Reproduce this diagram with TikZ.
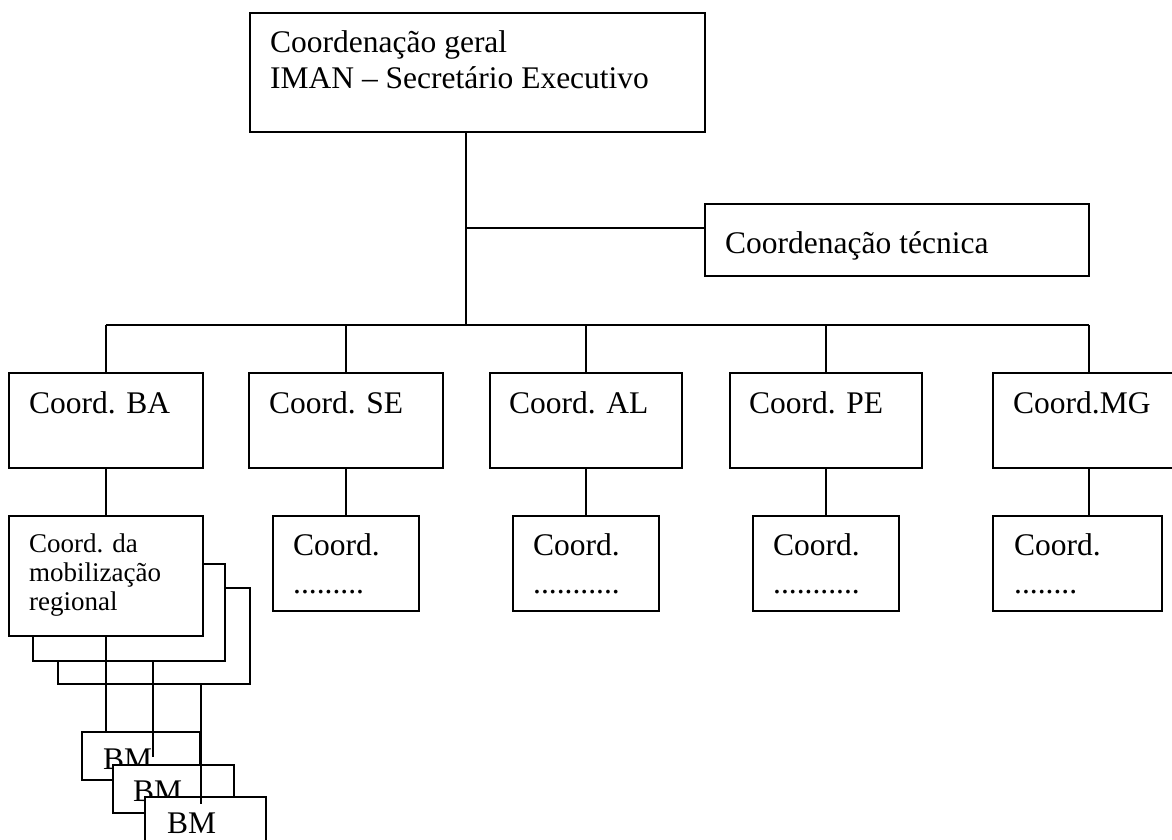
\documentclass[tikz,border=0pt]{standalone}
\usepackage{fontspec}
\setmainfont{Liberation Serif}
\begin{document}
\begin{tikzpicture}[x=1pt,y=-1pt]
\tikzset{
  box/.style={draw, line width=1.8pt, fill=white, rectangle, inner sep=0pt, anchor=north west},
  lbl/.style={anchor=base west, inner sep=0pt, font=\fontsize{31.5}{36}\selectfont},
  small/.style={anchor=base west, inner sep=0pt, font=\fontsize{27}{30}\selectfont},
  conn/.style={line width=1.8pt},
}
\useasboundingbox (0,0) rectangle (1172,840);
\clip (0,0) rectangle (1172,840);
\fill[white] (0,0) rectangle (1172,840);

% top
\node[box, minimum width=455pt, minimum height=119pt] (top) at (249,12) {};
\node[lbl] (topa) at (270,53) {Coordenação geral};
\node[lbl] (topb) at (270,89) {IMAN – Secretário Executivo};

% technical
\node[box, minimum width=384pt, minimum height=72pt] (tech) at (704,203) {};
\node[lbl] (techt) at (725,253) {Coordenação técnica};

% level 2
\node[box, minimum width=194pt, minimum height=95pt] (ba) at (8,372) {};
\node[box, minimum width=194pt, minimum height=95pt] (se) at (248,372) {};
\node[box, minimum width=192pt, minimum height=95pt] (al) at (489,372) {};
\node[box, minimum width=192pt, minimum height=95pt] (pe) at (729,372) {};
\node[box, minimum width=192pt, minimum height=95pt] (mg) at (992,372) {};
\node[lbl] (bat) at (29,413) {Coord. BA};
\node[lbl] (set) at (269,413) {Coord. SE};
\node[lbl] (alt) at (509,413) {Coord. AL};
\node[lbl] (pet) at (749,413) {Coord. PE};
\node[lbl] (mgt) at (1013,413) {Coord.MG};

% level 3
\node[box, minimum width=146pt, minimum height=95pt] (ses) at (272,515) {};
\node[box, minimum width=146pt, minimum height=95pt] (als) at (512,515) {};
\node[box, minimum width=146pt, minimum height=95pt] (pes) at (752,515) {};
\node[box, minimum width=169pt, minimum height=95pt] (mgs) at (992,515) {};
\node[lbl] (sesa) at (293,555) {Coord.};
\node[lbl] (sesb) at (293,593) {.........};
\node[lbl] (alsa) at (533,555) {Coord.};
\node[lbl] (alsb) at (533,593) {...........};
\node[lbl] (pesa) at (773,555) {Coord.};
\node[lbl] (pesb) at (773,593) {...........};
\node[lbl] (mgsa) at (1014,555) {Coord.};
\node[lbl] (mgsb) at (1014,593) {........};

% mobilization stack
\node[box, minimum width=192pt, minimum height=96pt] (mob3) at (57,587) {};
\node[box, minimum width=192pt, minimum height=97pt] (mob2) at (32,563) {};
\node[box, minimum width=194pt, minimum height=120pt] (mob1) at (8,515) {};
\node[small] (moba) at (29,552) {Coord. da};
\node[small] (mobb) at (29,581) {mobilização};
\node[small] (mobc) at (29,610) {regional};

% BM stack
\node[box, minimum width=118pt, minimum height=48pt] (bm1) at (81,731) {};
\node[lbl] (bm1t) at (103,769) {BM};
\node[box, minimum width=121pt, minimum height=48pt] (bm2) at (112,764) {};
\node[lbl] (bm2t) at (133,801) {BM};
\node[box, minimum width=121pt, minimum height=60pt] (bm3) at (144,796) {};
\node[lbl] (bm3t) at (167,833) {BM};

% connectors
\coordinate (bus) at (466,325);
\coordinate (tj) at (466,228);
\coordinate (e2) at (153,757);
\coordinate (e3) at (201,804);
\draw[conn] (top.south -| bus) -- (bus);
\draw[conn] (tj) -- (tj -| tech.west);
\draw[conn] (ba.north |- bus) -- (mg.north |- bus);
\foreach \n in {ba,se,al,pe,mg} { \draw[conn] (\n.north |- bus) -- (\n.north); }
\draw[conn] (se.south) -- (se.south |- ses.north);
\draw[conn] (al.south) -- (al.south |- als.north);
\draw[conn] (pe.south) -- (pe.south |- pes.north);
\draw[conn] (mg.south) -- (mg.south |- mgs.north);
\draw[conn] (ba.south) -- (mob1.north);
\draw[conn] (mob1.south) -- (mob1.south |- bm1.north);
\draw[conn] (e2 |- mob2.south) -- (e2);
\draw[conn] (e3 |- mob3.south) -- (e3);
\end{tikzpicture}
\end{document}
